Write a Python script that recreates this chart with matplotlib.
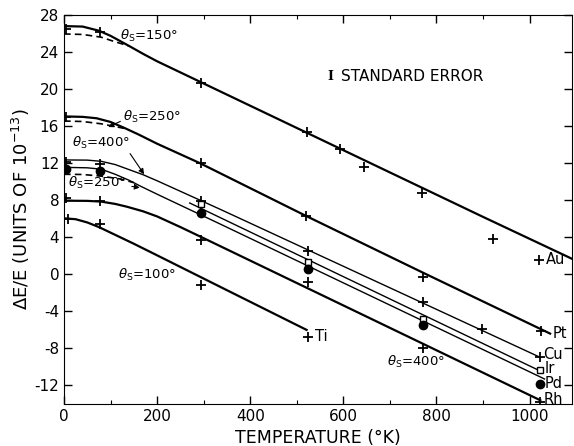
import matplotlib
matplotlib.use("Agg")
import matplotlib.pyplot as plt
from matplotlib.ticker import MultipleLocator

# curves (temperature K, dE/E in 1e-13)
au_t = [0, 40, 75, 100, 120, 140, 170, 200, 300, 500, 700, 900, 1090]
au_v = [26.8, 26.75, 26.3, 25.75, 25.2, 24.65, 23.8, 23.0, 20.6, 15.8, 11.0, 6.2, 1.7]
au_dash_t = [0, 40, 80, 110, 140]
au_dash_v = [25.95, 25.9, 25.6, 25.1, 24.65]

pt_t = [0, 40, 70, 100, 130, 160, 200, 292, 520, 770, 1044]
pt_v = [17.05, 17.0, 16.85, 16.45, 15.8, 15.1, 14.1, 12.0, 6.3, 0.2, -6.4]
pt_dash_t = [0, 40, 80, 110, 135]
pt_dash_v = [16.55, 16.5, 16.25, 15.95, 15.7]

cu_t = [0, 50, 80, 110, 140, 170, 200, 335, 1023]
cu_v = [12.35, 12.33, 12.2, 11.85, 11.3, 10.75, 10.1, 7.03, -8.97]

ir_t = [270, 1017]
ir_v = [7.7, -10.3]

pd_t = [0, 50, 80, 110, 140, 165, 200, 335, 1032]
pd_v = [11.55, 11.5, 11.35, 10.8, 10.15, 9.5, 8.65, 5.44, -11.3]
pd_dash_t = [0, 40, 80, 120, 150]
pd_dash_v = [10.8, 10.78, 10.6, 10.3, 9.9]

rh_t = [0, 50, 80, 110, 135, 170, 200, 250, 300, 1023]
rh_v = [7.95, 7.93, 7.85, 7.6, 7.3, 6.8, 6.25, 5.1, 3.9, -13.6]

ti_t = [0, 25, 50, 75, 100, 150, 200, 335, 521]
ti_v = [6.05, 5.95, 5.6, 5.1, 4.5, 3.3, 2.05, -1.34, -6.0]

# measured points
au_pts_t = [5, 77, 295, 522, 593, 645, 769, 921, 1021]
au_pts_v = [26.5, 26.2, 20.65, 15.4, 13.5, 11.6, 8.8, 3.8, 1.6]
pt_pts_t = [5, 295, 520, 770, 1025]
pt_pts_v = [17.0, 12.0, 6.3, -0.26, -6.1]
cu_pts_t = [5, 77, 295, 525, 770, 897, 1023]
cu_pts_v = [12.1, 11.9, 7.9, 2.5, -3.0, -5.95, -8.97]
ir_pts_t = [295, 523, 770, 1023]
ir_pts_v = [7.6, 1.36, -4.83, -10.3]
pd_pts_t = [5, 77, 295, 523, 770, 1023]
pd_pts_v = [11.35, 11.2, 6.66, 0.57, -5.48, -11.8]
rh_pts_t = [5, 77, 295, 523, 770, 1023]
rh_pts_v = [8.2, 7.95, 3.7, -0.87, -8.0, -13.8]
ti_pts_t = [8, 77, 295, 525]
ti_pts_v = [6.0, 5.4, -1.1, -6.8]

metals = ["Au", "Pt", "Cu", "Ir", "Pd", "Rh", "Ti"]
metal_label_pos = [(1035, 1.6), (1050, -6.4), (1030, -8.7), (1032, -10.2),
                   (1032, -11.8), (1030, -13.5), (540, -6.7)]

plt.rcParams['font.family'] = ['DejaVu Sans']
plt.rcParams['mathtext.fontset'] = 'dejavusans'
plt.rcParams['axes.unicode_minus'] = False

fig = plt.figure(figsize=(5.74, 4.46), dpi=100)
ax = fig.add_axes([0.1115, 0.0942, 0.885, 0.8722])

thick = dict(color='black', lw=1.6)
thin = dict(color='black', lw=1.0)
dash = dict(color='black', lw=1.2, ls=(0, (4, 2.5)))

ax.plot(au_t, au_v, **thick)
ax.plot(au_dash_t, au_dash_v, **dash)
ax.plot(pt_t, pt_v, **thick)
ax.plot(pt_dash_t, pt_dash_v, **dash)
ax.plot(cu_t, cu_v, **thin)
ax.plot(ir_t, ir_v, **thin)
ax.plot(pd_t, pd_v, **thin)
ax.plot(pd_dash_t, pd_dash_v, **dash)
ax.plot(rh_t, rh_v, **thick)
ax.plot(ti_t, ti_v, **thick)

plus = dict(ls='none', marker='+', ms=7, mew=1.3, color='black')
for t, v in [(au_pts_t, au_pts_v), (pt_pts_t, pt_pts_v), (cu_pts_t, cu_pts_v),
             (rh_pts_t, rh_pts_v), (ti_pts_t, ti_pts_v)]:
    ax.plot(t, v, **plus)
ax.plot(ir_pts_t, ir_pts_v, ls='none', marker='s', ms=5, mfc='white', mec='black', mew=1.0)
ax.plot(pd_pts_t, pd_pts_v, ls='none', marker='o', ms=6, color='black')

for name, (x, y) in zip(metals, metal_label_pos):
    ax.text(x, y, name, fontsize=10.5, ha='left', va='center')

ts = 9.5
ax.text(120, 25.7, r'$\theta_{\rm S}$=150°', fontsize=ts, ha='left', va='center')
ax.annotate(r'$\theta_{\rm S}$=250°', xy=(95, 15.9), xytext=(127, 17.0), fontsize=ts,
            ha='left', va='center',
            arrowprops=dict(arrowstyle='-|>', color='black', lw=0.8, mutation_scale=8,
                            relpos=(0, 0.3), shrinkA=0, shrinkB=0))
ax.annotate(r'$\theta_{\rm S}$=400°', xy=(172, 10.8), xytext=(17, 14.2), fontsize=ts,
            ha='left', va='center',
            arrowprops=dict(arrowstyle='-|>', color='black', lw=0.8, mutation_scale=8,
                            relpos=(0.95, 0.1), shrinkA=0, shrinkB=0))
ax.annotate(r'$\theta_{\rm S}$=250°', xy=(163, 9.35), xytext=(9, 9.85), fontsize=ts,
            ha='left', va='center',
            arrowprops=dict(arrowstyle='-|>', color='black', lw=0.8, mutation_scale=8,
                            ls='--', relpos=(1, 0.35), shrinkA=2, shrinkB=0))
ax.text(117, -0.05, r'$\theta_{\rm S}$=100°', fontsize=ts, ha='left', va='center')
ax.text(694, -9.45, r'$\theta_{\rm S}$=400°', fontsize=ts, ha='left', va='center')

ax.text(572, 21.4, 'I', fontsize=9, family='DejaVu Serif', weight='bold',
        ha='center', va='center')
ax.text(595, 21.4, 'STANDARD ERROR', fontsize=11, ha='left', va='center')

ax.set_xlim(0, 1091)
ax.set_ylim(-14, 28)
ax.xaxis.set_major_locator(MultipleLocator(200))
ax.xaxis.set_minor_locator(MultipleLocator(100))
ax.yaxis.set_major_locator(MultipleLocator(4))
ax.tick_params(which='both', direction='in', top=True, right=True, labelsize=11)
ax.tick_params(which='major', length=6, width=1.0)
ax.tick_params(which='minor', length=3, width=0.8)
ax.set_xticks(range(0, 1001, 200), ['0', '200', '400', '600', '800', '1000'])
ax.set_yticks(range(-12, 29, 4))

ax.set_xlabel('TEMPERATURE (°K)', fontsize=12.5, labelpad=4)
ax.set_ylabel(r'$\Delta$E/E (UNITS OF 10$^{-13}$)', fontsize=13, labelpad=2)

fig.savefig('out.png', dpi=100)
